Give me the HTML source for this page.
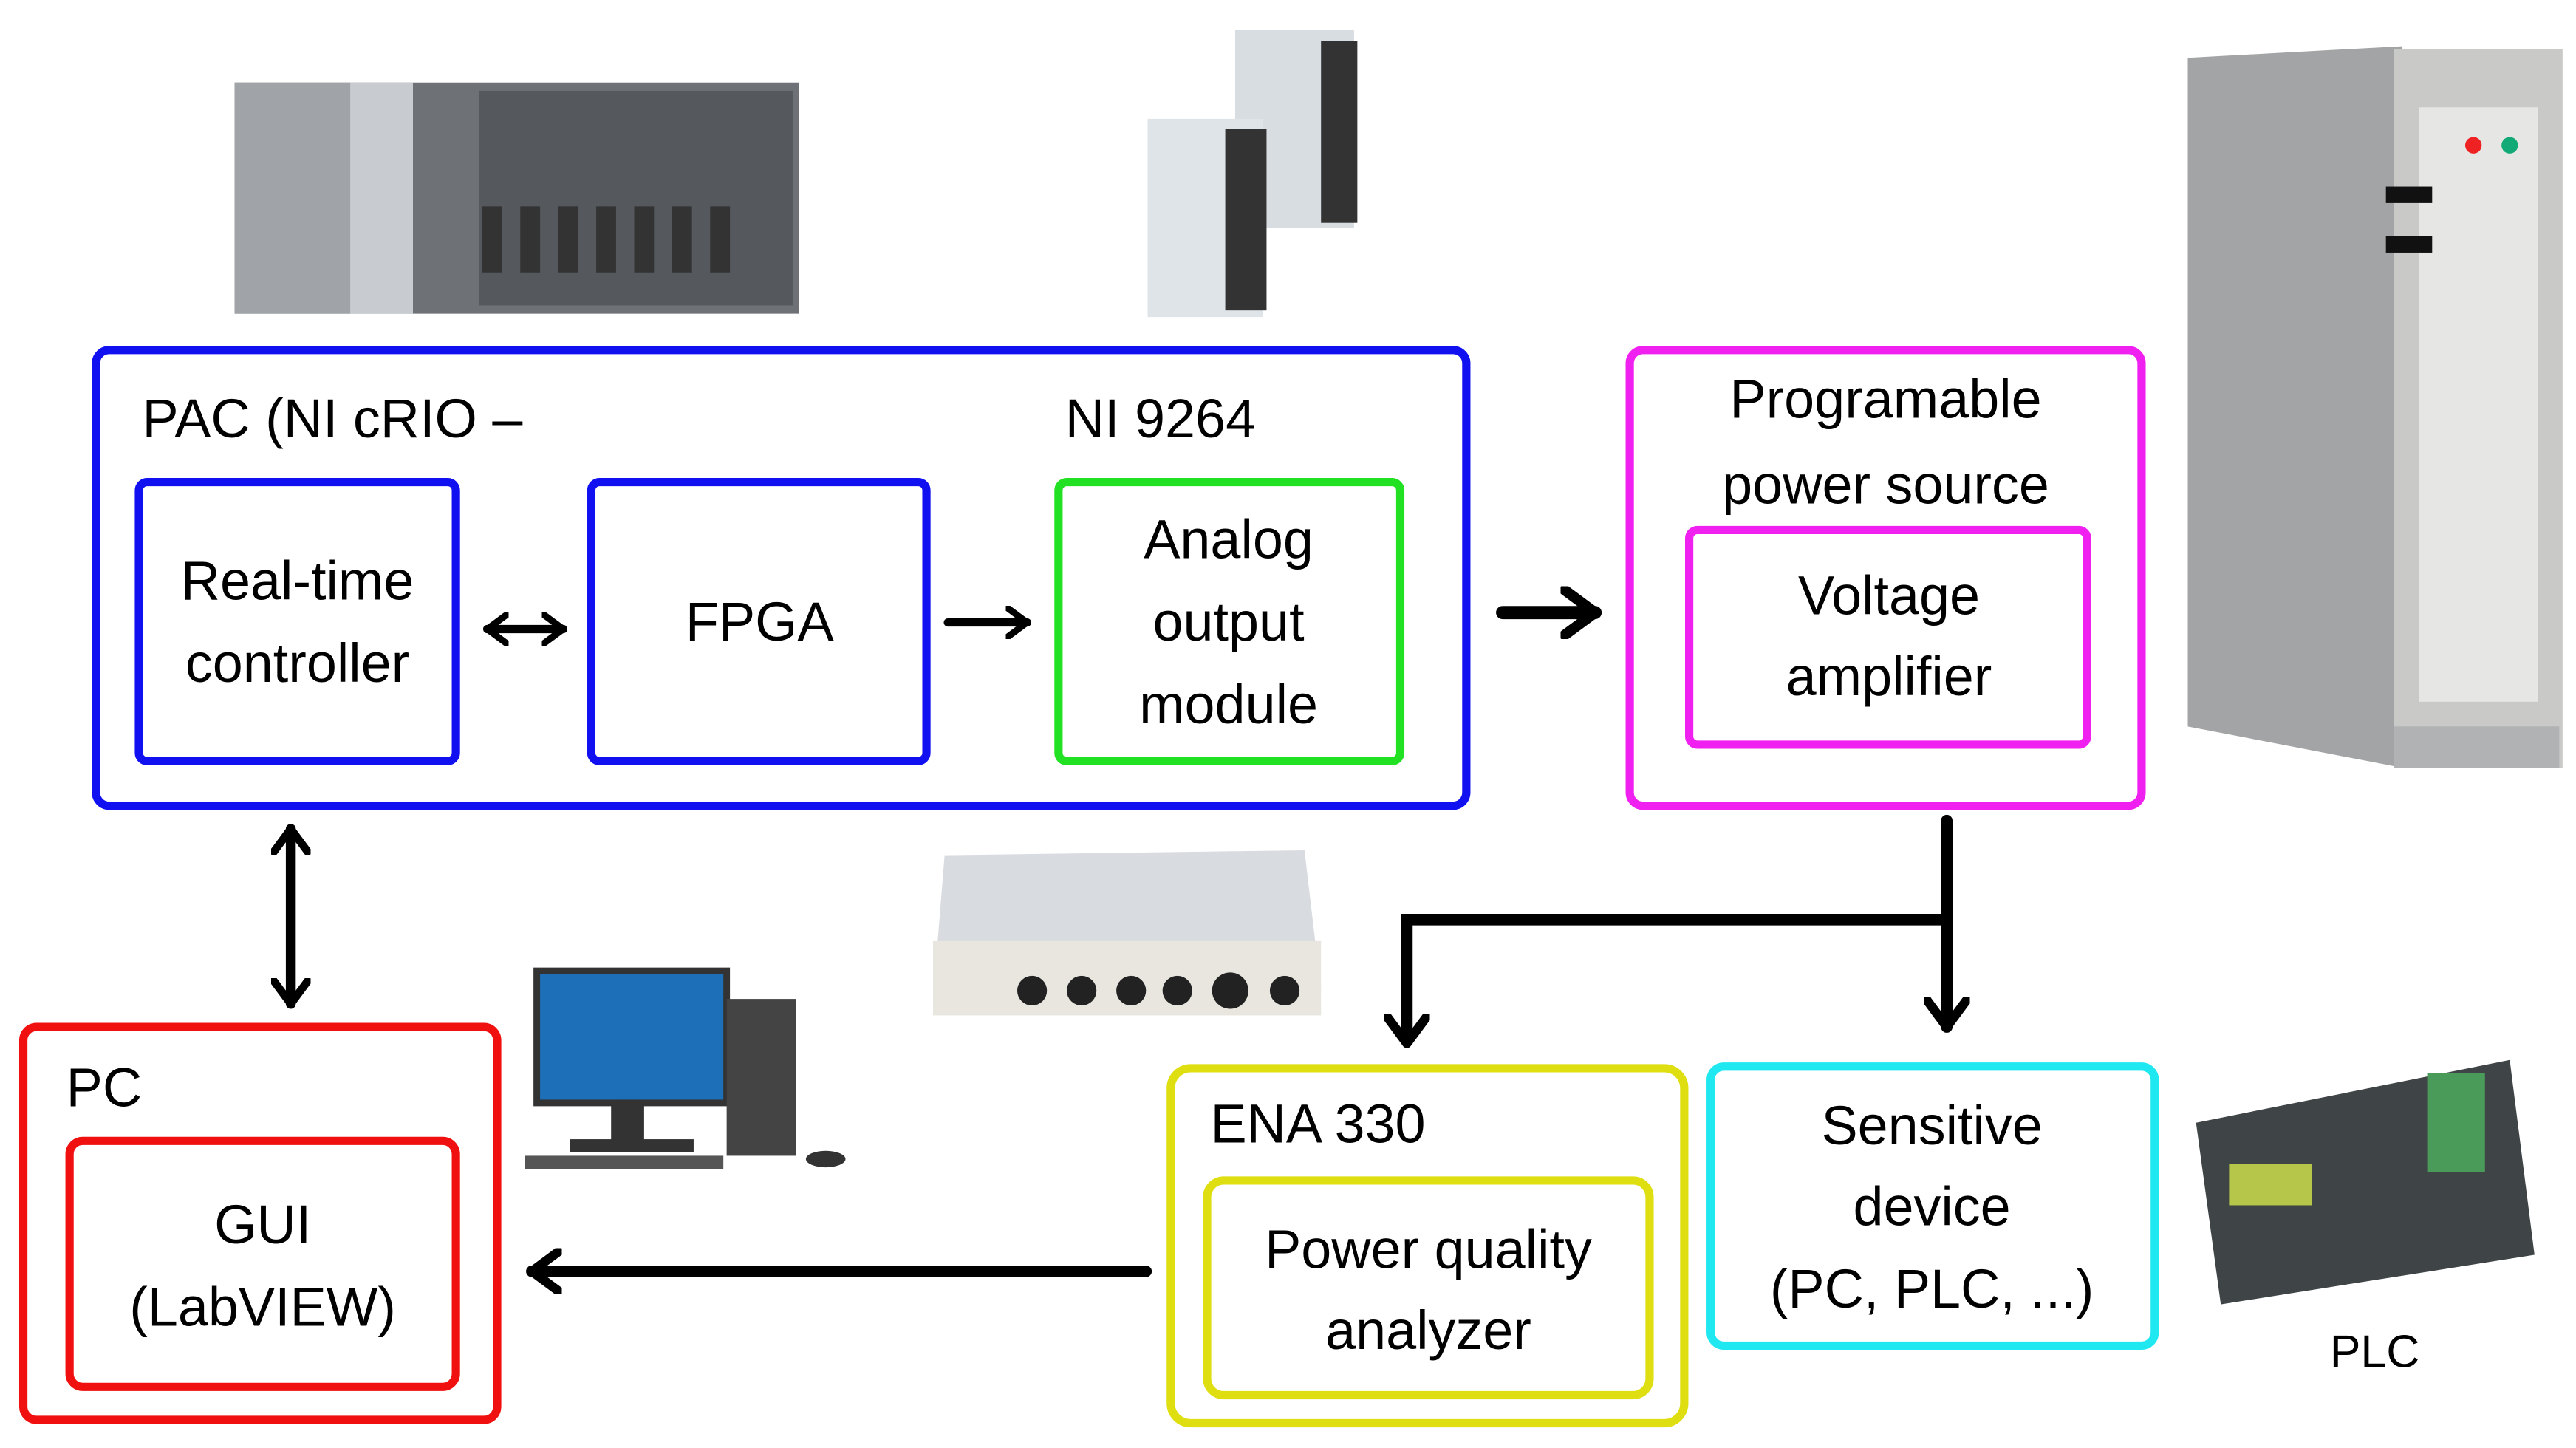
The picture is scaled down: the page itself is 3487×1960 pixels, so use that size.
<!DOCTYPE html>
<html><head><meta charset="utf-8"><style>
html,body{margin:0;padding:0;background:#fff;}
svg{display:block;}
text{font-family:"Liberation Sans",sans-serif;font-size:33px;fill:#000;}
</style></head><body>
<svg width="3487" height="1960" viewBox="0 0 1560 877" xmlns="http://www.w3.org/2000/svg">
<defs>
<marker id="ah" markerWidth="4" markerHeight="4" refX="2.6" refY="2" orient="auto-start-reverse" markerUnits="strokeWidth">
<path d="M0.3,0.3 L2.6,2 L0.3,3.7" fill="none" stroke="#000" stroke-width="0.8" stroke-linecap="round" stroke-linejoin="round"/>
</marker>
</defs>
<g>
<rect x="142" y="50" width="342" height="140" fill="#6e7276"/>
<rect x="142" y="50" width="70" height="140" fill="#a0a4a8"/>
<rect x="212" y="50" width="38" height="140" fill="#c8ccd0"/>
<rect x="290" y="55" width="190" height="130" fill="#55595d"/>
<g fill="#333"><rect x="292" y="125" width="12" height="40"/><rect x="315" y="125" width="12" height="40"/><rect x="338" y="125" width="12" height="40"/><rect x="361" y="125" width="12" height="40"/><rect x="384" y="125" width="12" height="40"/><rect x="407" y="125" width="12" height="40"/><rect x="430" y="125" width="12" height="40"/></g>
<rect x="748" y="18" width="72" height="120" fill="#d8dde2"/><rect x="800" y="25" width="22" height="110" fill="#333"/>
<rect x="695" y="72" width="70" height="120" fill="#dfe4e8"/><rect x="742" y="78" width="25" height="110" fill="#333"/>
<path d="M1325 35 L1455 28 L1455 465 L1325 440 Z" fill="#a3a4a5"/>
<rect x="1450" y="30" width="102" height="435" fill="#c9cac8"/>
<rect x="1465" y="65" width="72" height="360" fill="#e6e6e4"/>
<rect x="1445" y="113" width="28" height="10" fill="#111"/><rect x="1445" y="143" width="28" height="10" fill="#111"/>
<circle cx="1498" cy="88" r="5" fill="#e22"/><circle cx="1520" cy="88" r="5" fill="#1a7"/>
<rect x="1450" y="440" width="100" height="25" fill="#b0b2b3"/>
<path d="M572 518 L790 515 L800 600 L565 605 Z" fill="#d8dbe0"/>
<rect x="565" y="570" width="235" height="45" fill="#e8e6df"/>
<g fill="#222"><circle cx="625" cy="600" r="9"/><circle cx="655" cy="600" r="9"/><circle cx="685" cy="600" r="9"/><circle cx="713" cy="600" r="9"/><circle cx="745" cy="600" r="11"/><circle cx="778" cy="600" r="9"/></g>
<rect x="325" y="588" width="115" height="80" fill="#1d6fb8" stroke="#333" stroke-width="4"/>
<rect x="370" y="668" width="20" height="25" fill="#333"/><rect x="345" y="690" width="75" height="8" fill="#333"/>
<rect x="440" y="605" width="42" height="95" fill="#444"/>
<rect x="318" y="700" width="120" height="8" fill="#555"/><ellipse cx="500" cy="702" rx="12" ry="5" fill="#333"/>
<path d="M1330 680 L1520 642 L1535 760 L1345 790 Z" fill="#3f4447"/>
<rect x="1350" y="705" width="50" height="25" fill="#b5c64a"/>
<rect x="1470" y="650" width="35" height="60" fill="#4a9a5a"/>
</g>
<g fill="none" stroke-width="5">
<rect x="58" y="212" width="830" height="276" rx="8" stroke="#1010f0"/>
<rect x="84" y="292" width="192" height="169" rx="5" stroke="#1010f0"/>
<rect x="358" y="292" width="203" height="169" rx="5" stroke="#1010f0"/>
<rect x="641" y="292" width="207" height="169" rx="5" stroke="#22e022"/>
<rect x="987" y="212" width="310" height="276" rx="8" stroke="#f020f0"/>
<rect x="1023" y="321" width="241" height="130" rx="5" stroke="#f020f0"/>
<rect x="14" y="622" width="287" height="238" rx="8" stroke="#f01010"/>
<rect x="42" y="691" width="234" height="149" rx="8" stroke="#f01010"/>
<rect x="709" y="647" width="311" height="215" rx="12" stroke="#dede10"/>
<rect x="731" y="715" width="268" height="130" rx="10" stroke="#dede10"/>
<rect x="1036" y="646" width="269" height="169" rx="8" stroke="#20e8f0"/>
</g>
<g stroke="#000" fill="none" stroke-linecap="round">
<line x1="295" y1="381" x2="341" y2="381" stroke-width="5" marker-end="url(#ah)" marker-start="url(#ah)"/>
<line x1="574" y1="377" x2="622" y2="377" stroke-width="5" marker-end="url(#ah)"/>
<line x1="910" y1="371" x2="966" y2="371" stroke-width="8" marker-end="url(#ah)"/>
<line x1="176" y1="502" x2="176" y2="608" stroke-width="6" marker-end="url(#ah)" marker-start="url(#ah)"/>
<line x1="694" y1="770" x2="322" y2="770" stroke-width="7" marker-end="url(#ah)"/>
<line x1="1179" y1="497" x2="1179" y2="622" stroke-width="7" marker-end="url(#ah)"/>
<polyline points="1179,557 852,557 852,632" stroke-width="7" stroke-linecap="butt" marker-end="url(#ah)"/>
</g>
<text x="86" y="265">PAC (NI cRIO –</text>
<text x="645" y="265">NI 9264</text>
<g text-anchor="middle">
<text x="180" y="363">Real-time</text>
<text x="180" y="413">controller</text>
<text x="460" y="388">FPGA</text>
<text x="744" y="338">Analog</text>
<text x="744" y="388">output</text>
<text x="744" y="438">module</text>
<text x="1142" y="253">Programable</text>
<text x="1142" y="305">power source</text>
<text x="1144" y="372">Voltage</text>
<text x="1144" y="421">amplifier</text>
<text x="159" y="753">GUI</text>
<text x="159" y="803">(LabVIEW)</text>
<text x="865" y="768">Power quality</text>
<text x="865" y="817">analyzer</text>
<text x="1170" y="693">Sensitive</text>
<text x="1170" y="742">device</text>
<text x="1170" y="792">(PC, PLC, ...)</text>
</g>
<text x="40" y="670">PC</text>
<text x="733" y="692">ENA 330</text>
<text x="1411" y="828" style="font-size:28px">PLC</text>
</svg>
</body></html>
